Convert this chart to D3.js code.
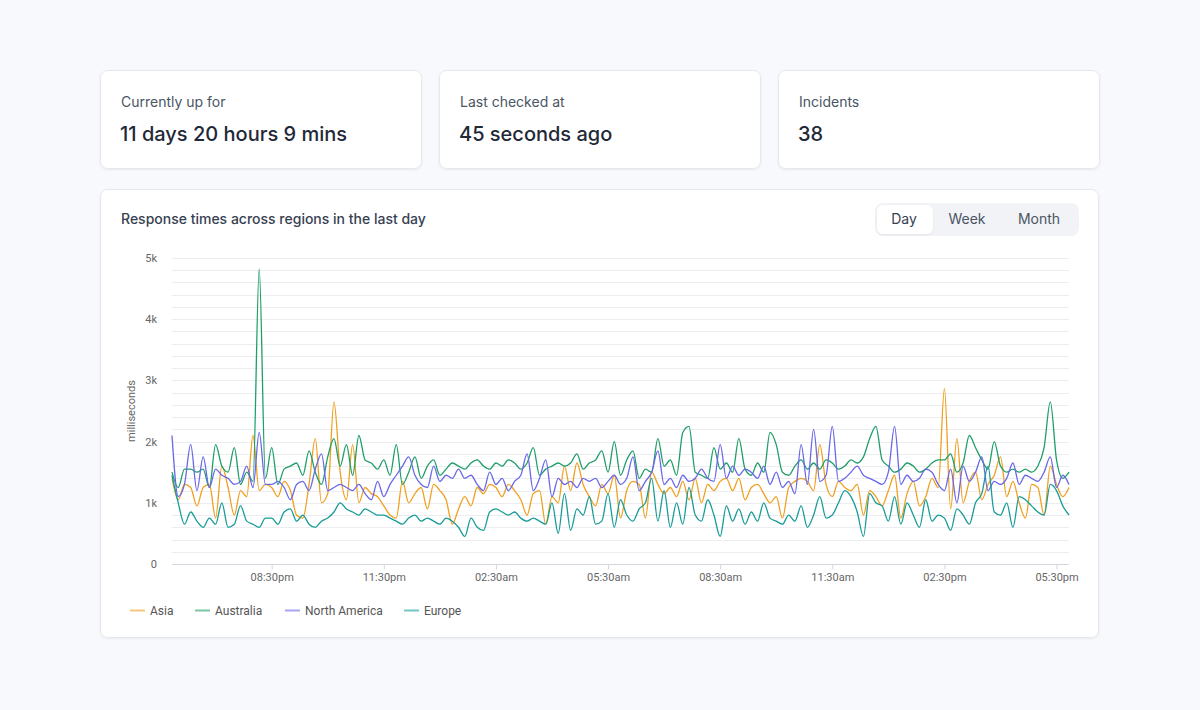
<!DOCTYPE html>
<html>
<head>
<meta charset="utf-8">
<script src="https://cdn.jsdelivr.net/npm/d3@7"></script>
<style>
  body { margin: 0; background: #f8f9fc; }
  svg { display: block; }
</style>
</head>
<body>
<svg id="chart" width="1200" height="710"></svg>
<script>
// stat cards
var statLabels = ["Currently up for", "Last checked at", "Incidents"];
var statValues = ["11 days 20 hours 9 mins", "45 seconds ago", "38"];

var ranges = ["Day", "Week", "Month"];
var regions = ["Asia", "Australia", "North America", "Europe"];
var colors = ["#f0a020", "#1f9e68", "#6a67e8", "#189c98"];

var yTicks = [0, 1000, 2000, 3000, 4000, 5000];
var yTickLabels = ["0", "1k", "2k", "3k", "4k", "5k"];
var xTickLabels = ["08:30pm", "11:30pm", "02:30am", "05:30am", "08:30am", "11:30am", "02:30pm", "05:30pm"];

// one reading every 10 minutes, from 05:50pm to 05:50pm
var asia = [
  1400,1050,1300,1250,950,1250,1300,750,1600,1250,800,1200,1100,2100,1200,1300,
  1250,1100,1350,1200,800,750,1300,2050,1000,1150,2650,1500,1050,1950,1000,1250,1150,1100,
  950,800,750,1350,1000,1150,1250,900,1300,1200,1050,650,900,1100,950,1250,1150,1300,
  1250,1100,1300,1200,1050,800,1150,1200,650,1100,1000,1600,1200,1650,1300,1100,950,1300,
  1150,1450,750,1200,1350,1300,750,1500,1300,1150,1250,1100,1350,1050,1400,1000,1300,1200,
  1350,1400,1200,1400,1050,1250,1300,1150,1000,1100,750,1250,1350,1400,1350,1200,1950,1300,
  1100,1350,1250,1200,1300,800,1200,1100,950,1200,1450,750,1150,1350,950,1100,1400,1250,
  2870,900,2050,1000,1350,1500,1050,1300,1450,1750,1100,1350,1000,750,1300,1250,800,1600,
  1300,1100,1250
];
var australia = [
  1500,1250,1550,1550,1500,1550,1250,1950,1600,1500,1900,1300,1500,1350,4820,1400,
  1900,1300,1550,1600,1650,1450,1850,1500,1300,1750,2050,1600,1950,1450,2100,1700,1650,1550,
  1700,1450,1950,1300,1500,1750,1400,1600,1700,1450,1550,1650,1600,1550,1650,1700,1600,1550,
  1650,1600,1700,1650,1550,1650,1900,1450,1550,1600,1650,1600,1650,1800,1550,1650,1700,1850,
  1500,2000,1450,1700,1850,1400,1550,1500,2050,1600,1700,1450,2150,2250,1500,1450,1400,1900,
  1550,1650,1500,2050,1550,1450,1650,1500,2150,1950,1500,1450,1600,1700,1550,1650,1550,1700,
  1650,1550,1600,1700,1650,1750,2050,2250,1700,1600,1500,1550,1650,1600,1500,1550,1650,1700,
  1700,1800,1500,1650,2100,1900,1700,1550,2000,1600,1500,1550,1500,1550,1500,1600,1900,2650,
  1700,1400,1500
];
var northAmerica = [
  2100,1100,1300,1950,1200,1750,1250,1550,1450,1400,1300,1350,1600,1250,2150,1300,
  1300,1350,1250,1050,1300,1350,1200,1550,1800,1200,1250,1300,1250,1200,1300,1150,1050,1350,
  1100,1300,1450,1600,1750,1450,1300,1250,1600,1350,1450,1400,1550,1400,1450,1300,1200,1500,
  1300,1400,1200,1350,1450,1800,1200,1400,1700,1100,1400,1300,1350,1250,1400,1350,1400,1250,
  1350,1450,1300,1400,1750,1200,1350,1500,1850,1300,1400,1250,1450,1350,1400,1550,1400,1350,
  1950,1400,1600,1450,1550,1500,1400,1600,1300,1500,1250,1350,1150,1950,1300,2200,1350,1450,
  2250,1350,1400,1500,1600,1450,1400,1350,1300,1500,2250,1300,1450,1350,1400,1550,1500,1300,
  1200,1550,1000,1600,1350,1500,1750,1200,1350,1300,1400,1650,1300,1450,1400,1350,1500,1750,
  1250,1450,1300
];
var europe = [
  1450,1000,650,850,700,600,750,650,1000,600,650,950,700,650,600,750,
  750,650,850,900,700,800,650,600,700,750,850,1000,900,850,800,900,850,800,
  800,750,700,650,750,800,700,750,700,650,750,700,600,450,750,600,550,850,
  900,850,800,850,750,700,750,700,650,1000,500,1150,550,900,800,1100,650,700,
  1150,600,1050,800,700,900,1000,1400,700,1200,600,1000,650,1250,800,700,1050,800,
  450,950,700,900,650,850,700,1000,750,700,650,800,700,950,600,800,1100,750,
  800,1000,1200,1100,850,450,1150,1000,950,700,1100,650,1000,800,600,1050,700,800,
  750,550,900,800,650,1000,1150,1600,850,800,1000,600,1100,1050,950,850,800,1300,
  1200,950,800
];
var seriesValues = [asia, australia, northAmerica, europe];

var startTime = new Date(2024, 0, 1, 17, 50);
var times = asia.map((d, i) => d3.timeMinute.offset(startTime, i * 10));
var xTickTimes = xTickLabels.map((d, i) => d3.timeMinute.offset(startTime, 160 + i * 180));

var svg = d3.select("#chart");
var cardFont = "Inter, 'Noto Sans', sans-serif";
var axisFont = "Roboto, 'Noto Sans', sans-serif";

var defs = svg.append("defs");
var shadow = defs.append("filter").attr("id", "shadow")
  .attr("x", "-5%").attr("y", "-10%").attr("width", "110%").attr("height", "130%");
shadow.append("feDropShadow").attr("dx", 0).attr("dy", 1).attr("stdDeviation", 1)
  .attr("flood-color", "#000").attr("flood-opacity", 0.06);

// stat cards
var cardX = [100, 439, 778];
var cards = svg.selectAll("g.card")
  .data(statLabels)
  .join("g")
  .attr("class", "card")
  .attr("transform", (d, i) => "translate(" + cardX[i] + ",70)");

cards.append("rect")
  .attr("x", 0.5).attr("y", 0.5)
  .attr("width", 321).attr("height", 98)
  .attr("rx", 7)
  .attr("fill", "#fff")
  .attr("stroke", "#e4e7ec")
  .attr("filter", "url(#shadow)");

cards.append("text")
  .attr("x", 21).attr("y", 37)
  .attr("font-family", cardFont).attr("font-size", 14)
  .attr("fill", "#4b5563")
  .text((d) => d);

cards.append("text")
  .attr("x", 20).attr("y", 71)
  .attr("font-family", cardFont).attr("font-size", 20).attr("font-weight", 500)
  .attr("fill", "#1f2937")
  .text((d, i) => statValues[i]);

// chart card
svg.append("rect")
  .attr("x", 100.5).attr("y", 189.5)
  .attr("width", 998).attr("height", 448)
  .attr("rx", 7)
  .attr("fill", "#fff")
  .attr("stroke", "#e4e7ec")
  .attr("filter", "url(#shadow)");

svg.append("text")
  .attr("x", 121).attr("y", 224)
  .attr("font-family", cardFont).attr("font-size", 14).attr("font-weight", 500)
  .attr("fill", "#374151")
  .text("Response times across regions in the last day");

// range toggle
var toggle = svg.append("g").attr("transform", "translate(875,203)");
toggle.append("rect")
  .attr("width", 204).attr("height", 33).attr("rx", 8)
  .attr("fill", "#f1f3f7");
toggle.append("rect")
  .attr("x", 2).attr("y", 2).attr("width", 56).attr("height", 29).attr("rx", 6)
  .attr("fill", "#fff").attr("filter", "url(#shadow)");
var toggleX = [29, 92, 164];
toggle.selectAll("text.range")
  .data(ranges)
  .join("text")
  .attr("class", "range")
  .attr("x", (d, i) => toggleX[i]).attr("y", 21)
  .attr("text-anchor", "middle")
  .attr("font-family", cardFont).attr("font-size", 14)
  .attr("fill", (d, i) => i === 0 ? "#374151" : "#4b5563")
  .text((d) => d);

// plot
var x = d3.scaleTime()
  .domain([times[0], times[times.length - 1]])
  .range([172, 1069]);
var y = d3.scaleLinear().domain([0, 5000]).range([564, 258]);

var grid = svg.append("g");
grid.selectAll("line")
  .data(d3.range(200, 5001, 200))
  .join("line")
  .attr("x1", 172).attr("x2", 1069)
  .attr("y1", (d) => Math.round(y(d)) + 0.5)
  .attr("y2", (d) => Math.round(y(d)) + 0.5)
  .attr("stroke", "#ebedf0");

var yAxis = svg.append("g")
  .attr("transform", "translate(157,0)")
  .call(d3.axisLeft(y).tickValues(yTicks).tickSize(0).tickPadding(0)
    .tickFormat((d, i) => yTickLabels[i]));
yAxis.select(".domain").remove();
yAxis.selectAll("text")
  .attr("font-family", axisFont).attr("font-size", 11).attr("fill", "#666");

var xAxis = svg.append("g")
  .attr("transform", "translate(0,564.5)")
  .call(d3.axisBottom(x).tickValues(xTickTimes).tickSize(5).tickPadding(4)
    .tickFormat((d, i) => xTickLabels[i]))
  .call((g) => g.select(".domain").attr("d", "M172,0H1069").attr("stroke", "#d4d7de"));
xAxis.selectAll(".tick line").attr("stroke", "#d4d7de");
xAxis.selectAll("text")
  .attr("font-family", axisFont).attr("font-size", 11).attr("fill", "#666");

svg.append("text")
  .attr("transform", "translate(135,411) rotate(-90)")
  .attr("text-anchor", "middle")
  .attr("font-family", axisFont).attr("font-size", 11).attr("fill", "#666")
  .text("milliseconds");

var line = d3.line()
  .x((d, i) => x(times[i]))
  .y((d) => y(d))
  .curve(d3.curveMonotoneX);

svg.append("g")
  .selectAll("path")
  .data(seriesValues)
  .join("path")
  .attr("d", line)
  .attr("fill", "none")
  .attr("stroke", (d, i) => colors[i])
  .attr("stroke-width", 1.3)
  .attr("stroke-linejoin", "round");

// legend
var legendX = [130, 195, 285, 404];
var legend = svg.append("g")
  .selectAll("g")
  .data(regions)
  .join("g")
  .attr("transform", (d, i) => "translate(" + legendX[i] + ",610.5)");
legend.append("line")
  .attr("x1", 0).attr("x2", 15)
  .attr("stroke", (d, i) => colors[i])
  .attr("stroke-opacity", 0.6)
  .attr("stroke-width", 2);
legend.append("text")
  .attr("x", 20).attr("y", 4)
  .attr("font-family", axisFont).attr("font-size", 12).attr("fill", "#555")
  .text((d) => d);
</script>
</body>
</html>
